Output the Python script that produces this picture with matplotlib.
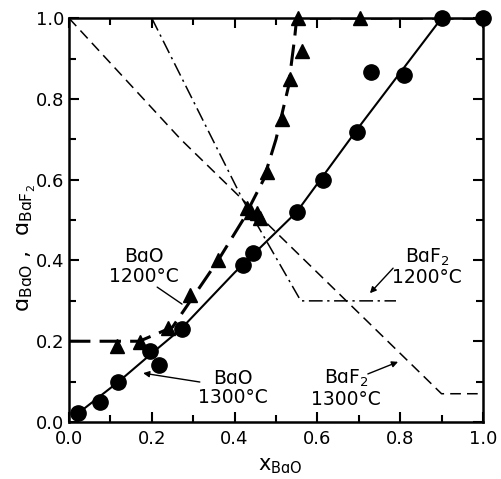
import matplotlib.pyplot as plt
from matplotlib.ticker import MultipleLocator

plt.rcParams['font.family'] = ['DejaVu Sans']
plt.rcParams['mathtext.fontset'] = 'dejavusans'

# measured points, BaO activity at 1200 C (triangles)
tri_x = [0.116, 0.171, 0.239, 0.292, 0.36, 0.43, 0.44, 0.454, 0.461, 0.478, 0.515, 0.534, 0.563, 0.553, 0.703]
tri_y = [0.188, 0.198, 0.233, 0.314, 0.40, 0.53, 0.52, 0.517, 0.505, 0.62, 0.75, 0.85, 0.92, 1.0, 1.0]

# measured points, BaO activity at 1300 C (circles)
circ_x = [0.022, 0.075, 0.118, 0.196, 0.218, 0.272, 0.42, 0.445, 0.55, 0.613, 0.695, 0.729, 0.81, 0.90, 1.0]
circ_y = [0.022, 0.05, 0.10, 0.176, 0.141, 0.23, 0.389, 0.418, 0.52, 0.60, 0.718, 0.867, 0.86, 1.0, 1.0]

# fitted curves
bao1200_x = [0.0, 0.17, 0.25, 0.30, 0.36, 0.42, 0.47, 0.50, 0.53, 0.545, 0.55, 1.0]
bao1200_y = [0.20, 0.20, 0.235, 0.31, 0.40, 0.50, 0.60, 0.70, 0.83, 0.95, 1.0, 1.0]

bao1300_x = [0.02, 0.12, 0.20, 0.27, 0.40, 0.55, 0.70, 0.90, 1.0]
bao1300_y = [0.02, 0.10, 0.17, 0.23, 0.37, 0.52, 0.73, 1.0, 1.0]

baf1300_x = [0.0, 0.27, 0.43, 0.90, 1.0]
baf1300_y = [1.0, 0.70, 0.54, 0.07, 0.07]

baf1200_x = [0.20, 0.42, 0.56, 0.79]
baf1200_y = [1.0, 0.55, 0.30, 0.30]

# labels: (text, text position, arrow start, arrow tip, arrow style)
labels = [
    ('BɑO\n1200°C', (0.18, 0.386), (0.213, 0.334), (0.273, 0.292), '-'),
    ('BɑO\n1300°C', (0.395, 0.084), (0.316, 0.099), (0.179, 0.121), '-|>'),
    ('BɑF$_2$\n1200°C', (0.865, 0.384), (0.783, 0.381), (0.727, 0.319), '-|>'),
    ('BɑF$_2$\n1300°C', (0.67, 0.084), (0.722, 0.119), (0.795, 0.149), '-|>'),
]

fig = plt.figure(figsize=(5.02, 4.79), dpi=100)
ax = fig.add_axes([0.1375, 0.119, 0.8245, 0.843])

ax.plot(bao1200_x, bao1200_y, color='black', lw=2.2, dashes=(7, 3))
ax.plot(bao1300_x, bao1300_y, color='black', lw=1.5)
ax.plot(baf1300_x, baf1300_y, color='black', lw=1.1, dashes=(7, 4))
ax.plot(baf1200_x, baf1200_y, color='black', lw=1.1, dashes=(9, 3, 1.5, 3))

ax.plot(tri_x, tri_y, '^', color='black', ms=10, clip_on=False)
ax.plot(circ_x, circ_y, 'o', color='black', ms=11, clip_on=False)

for txt, pos, start, tip, style in labels:
    ax.text(pos[0], pos[1], txt, ha='center', va='center', fontsize=13.5,
            linespacing=1.05)
    ax.annotate('', xy=tip, xytext=start,
                arrowprops=dict(arrowstyle=style, color='black', lw=1,
                                mutation_scale=9, shrinkA=0, shrinkB=0))

ax.set_xlim(0, 1)
ax.set_ylim(0, 1)
ax.xaxis.set_major_locator(MultipleLocator(0.2))
ax.yaxis.set_major_locator(MultipleLocator(0.2))
ax.xaxis.set_minor_locator(MultipleLocator(0.1))
ax.yaxis.set_minor_locator(MultipleLocator(0.1))
ax.tick_params(which='both', direction='in', top=True, right=True, width=1.5,
               labelsize=13)
ax.tick_params(which='major', length=7)
ax.tick_params(which='minor', length=5)
ax.tick_params(axis='x', pad=6)
ax.xaxis.set_major_formatter(plt.FuncFormatter(lambda v, p: f'{v:.1f}'))
ax.yaxis.set_major_formatter(plt.FuncFormatter(lambda v, p: f'{v:.1f}'))
for s in ax.spines.values():
    s.set_linewidth(1.8)

ax.set_xlabel('x$_{\\mathregular{BɑO}}$', fontsize=15)
ax.xaxis.set_label_coords(0.51, -0.085)
ax.set_ylabel('ɑ$_{\\mathregular{BɑO}}$ ,  ɑ$_{\\mathregular{BɑF_2}}$', fontsize=16)
ax.yaxis.set_label_coords(-0.075, 0.43)

fig.savefig('out.png', dpi=100)
